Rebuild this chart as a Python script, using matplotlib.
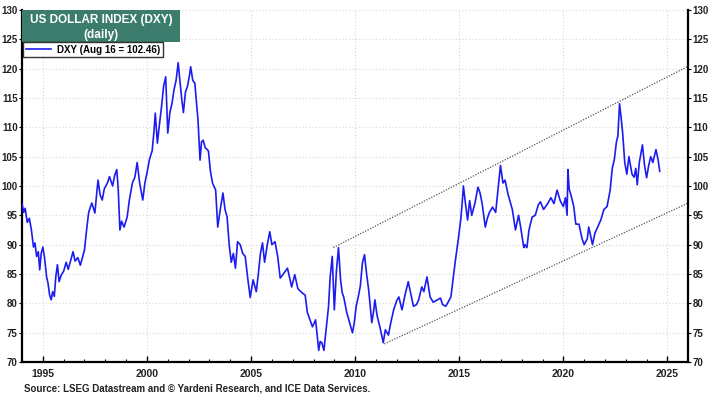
import matplotlib
matplotlib.use("Agg")
import matplotlib.pyplot as plt
from matplotlib.patches import Rectangle
import numpy as np

plt.rcParams["font.family"] = ["Liberation Sans", "DejaVu Sans"]

# DXY readings (decimal year, index level)
years = [
    1994.00, 1994.08, 1994.15, 1994.25, 1994.35, 1994.45, 1994.55, 1994.62, 1994.70, 1994.78,
    1994.85, 1994.92, 1995.00, 1995.08, 1995.18, 1995.25, 1995.32, 1995.40, 1995.47, 1995.55,
    1995.62, 1995.70, 1995.78, 1995.88, 1996.00, 1996.12, 1996.22, 1996.35, 1996.45, 1996.55,
    1996.68, 1996.80, 1996.90, 1997.00, 1997.10, 1997.20, 1997.35, 1997.50, 1997.58, 1997.65,
    1997.75, 1997.85, 1997.95, 1998.10, 1998.20, 1998.35, 1998.45, 1998.55, 1998.62, 1998.70,
    1998.78, 1998.90, 1999.05, 1999.15, 1999.30, 1999.42, 1999.53, 1999.65, 1999.80, 1999.90,
    2000.00, 2000.12, 2000.25, 2000.33, 2000.40, 2000.50, 2000.60, 2000.70, 2000.80, 2000.90,
    2000.96, 2001.00, 2001.10, 2001.20, 2001.30, 2001.40, 2001.50, 2001.58, 2001.68, 2001.75,
    2001.85, 2001.95, 2002.05, 2002.10, 2002.20, 2002.30, 2002.40, 2002.45, 2002.52, 2002.55,
    2002.62, 2002.70, 2002.80, 2002.95, 2003.05, 2003.15, 2003.30, 2003.40, 2003.50, 2003.65,
    2003.75, 2003.85, 2003.95, 2004.05, 2004.15, 2004.25, 2004.35, 2004.48, 2004.60, 2004.72,
    2004.85, 2004.96, 2005.10, 2005.25, 2005.35, 2005.45, 2005.55, 2005.65, 2005.78, 2005.90,
    2006.00, 2006.15, 2006.28, 2006.40, 2006.55, 2006.75, 2006.95, 2007.10, 2007.25, 2007.45,
    2007.60, 2007.70, 2007.85, 2007.95, 2008.10, 2008.25, 2008.32, 2008.40, 2008.50, 2008.57,
    2008.72, 2008.80, 2008.90, 2009.00, 2009.10, 2009.20, 2009.30, 2009.38, 2009.45, 2009.60,
    2009.75, 2009.87, 2009.95, 2010.05, 2010.15, 2010.25, 2010.35, 2010.45, 2010.55, 2010.65,
    2010.80, 2010.88, 2010.95, 2011.05, 2011.20, 2011.35, 2011.45, 2011.60, 2011.70, 2011.85,
    2012.00, 2012.10, 2012.25, 2012.40, 2012.55, 2012.65, 2012.80, 2012.95, 2013.05, 2013.20,
    2013.30, 2013.45, 2013.60, 2013.75, 2013.95, 2014.10, 2014.20, 2014.35, 2014.45, 2014.60,
    2014.70, 2014.80, 2014.95, 2015.08, 2015.15, 2015.20, 2015.30, 2015.40, 2015.50, 2015.60,
    2015.75, 2015.90, 2016.00, 2016.10, 2016.25, 2016.35, 2016.45, 2016.60, 2016.75, 2016.88,
    2016.98, 2017.10, 2017.20, 2017.35, 2017.55, 2017.70, 2017.85, 2017.95, 2018.10, 2018.15,
    2018.25, 2018.35, 2018.50, 2018.65, 2018.80, 2018.90, 2019.05, 2019.25, 2019.40, 2019.55,
    2019.70, 2019.85, 2020.00, 2020.10, 2020.18, 2020.22, 2020.28, 2020.40, 2020.50, 2020.60,
    2020.75, 2020.90, 2021.00, 2021.15, 2021.22, 2021.40, 2021.52, 2021.65, 2021.80, 2021.95,
    2022.10, 2022.25, 2022.35, 2022.45, 2022.55, 2022.62, 2022.70, 2022.78, 2022.85, 2022.95,
    2023.05, 2023.15, 2023.30, 2023.40, 2023.48, 2023.55, 2023.65, 2023.80, 2023.90, 2024.00,
    2024.10, 2024.20, 2024.30, 2024.45, 2024.55, 2024.63,
]
dxy = [
    97.0, 95.5, 96.2, 93.8, 94.5, 92.5, 89.6, 90.3, 88.0, 88.8,
    85.7, 88.5, 89.6, 87.8, 84.5, 83.4, 81.5, 80.6, 82.0, 81.2,
    84.5, 86.6, 83.7, 84.8, 85.5, 87.0, 85.8, 87.5, 88.8, 87.2,
    87.8, 86.5, 87.8, 89.1, 92.5, 95.5, 97.1, 95.4, 98.5, 101.0,
    98.5, 97.6, 99.5, 100.5, 101.6, 100.0, 101.8, 102.8, 99.5, 92.5,
    94.0, 93.0, 94.7, 97.5, 100.5, 101.5, 104.0, 100.5, 97.6, 100.5,
    102.2, 104.5, 106.0, 109.0, 112.4, 107.3, 110.5, 113.5, 117.0, 118.6,
    113.0, 109.0, 112.5, 114.0, 116.4, 118.0, 121.0, 118.0, 114.5, 112.5,
    116.0, 117.0, 119.0, 120.3, 118.0, 117.5, 113.5, 111.3, 106.5, 104.4,
    107.5, 107.8, 106.5, 106.0, 102.5, 100.5, 99.3, 93.0, 95.5, 98.8,
    96.0, 94.7, 90.0, 87.0, 88.5, 86.0, 90.5, 90.0, 88.5, 88.0,
    84.0, 81.0, 84.0, 82.0, 85.0, 88.5, 90.3, 87.0, 90.0, 92.2,
    90.0, 90.5, 88.0, 84.3, 85.0, 86.0, 82.8, 84.9, 82.5, 81.8,
    81.4, 78.5, 77.0, 76.0, 77.2, 72.0, 73.5, 73.3, 72.0, 74.3,
    79.4, 84.5, 88.0, 78.9, 85.5, 89.5, 84.0, 81.8, 81.1, 78.4,
    76.5, 75.0, 76.5, 79.5, 81.1, 83.0, 86.9, 88.3, 85.0, 82.3,
    76.7, 78.5, 80.6, 78.0, 75.8, 73.3, 75.5, 74.6, 76.5, 78.9,
    80.5, 81.1, 78.9, 81.5, 83.7, 82.0, 79.5, 79.8, 80.6, 82.8,
    82.0, 84.5, 81.1, 80.2, 80.6, 80.9, 79.8, 79.5, 80.1, 81.1,
    84.0, 86.9, 90.8, 94.5, 97.5, 100.0, 97.0, 94.2, 97.5, 95.0,
    97.0, 99.8, 98.8, 97.0, 93.0, 94.5, 95.5, 96.4, 95.5, 100.0,
    103.5, 100.5, 101.0, 98.5, 96.0, 92.5, 95.0, 93.0, 89.5, 90.0,
    89.5, 92.5, 94.7, 95.0, 96.8, 97.3, 96.0, 97.0, 98.0, 97.0,
    99.3, 97.5, 96.5, 98.0, 95.0, 102.8, 99.5, 98.0, 96.5, 93.5,
    93.5, 91.0, 90.0, 91.0, 93.0, 90.0, 92.0, 93.0, 94.2, 96.0,
    96.5, 99.3, 103.0, 104.5, 107.5, 108.5, 114.0, 111.5, 109.0, 104.0,
    102.0, 105.0, 102.0, 101.5, 103.0, 100.2, 104.0, 107.0, 103.5, 101.4,
    103.5, 105.0, 104.0, 106.2, 104.5, 102.5,
]

# channel lines (start, end)
upper_x = [2008.95, 2026.0]
upper_y = [89.5, 120.4]
lower_x = [2011.4, 2026.0]
lower_y = [73.1, 97.1]

x_ticks = [1995, 2000, 2005, 2010, 2015, 2020, 2025]
y_ticks = list(range(70, 131, 5))

fig = plt.figure(figsize=(7.11, 3.94), dpi=100)
ax = fig.add_axes([0.031, 0.081, 0.937, 0.894])

ax.plot(years, dxy, color="#1c1cf0", lw=1.2, label="DXY (Aug 16 = 102.46)", zorder=3)
ax.plot(upper_x, upper_y, color="#555555", lw=0.9, ls=(0, (1, 1.2)), zorder=2)
ax.plot(lower_x, lower_y, color="#555555", lw=0.9, ls=(0, (1, 1.2)), zorder=2)

ax.set_xlim(1994, 2026)
ax.set_ylim(70, 130)
ax.set_xticks(x_ticks)
ax.set_xticks(range(1994, 2027), minor=True)
ax.set_yticks(y_ticks)
ax.grid(True, which="major", color="#d6d6d6", ls=(0, (1, 2)), lw=0.8)

ax.tick_params(axis="x", which="major", direction="in", length=4, width=1, labelsize=7.5, pad=5)
ax.tick_params(axis="x", which="minor", direction="in", length=2.5, width=0.8)
ax.tick_params(axis="y", which="major", direction="out", length=2, labelsize=7,
               left=True, right=True, labelleft=True, labelright=True, pad=1)
for lab in ax.get_xticklabels() + ax.get_yticklabels():
    lab.set_fontweight("bold")
    lab.set_color("#222222")

for s in ["left", "right", "bottom"]:
    ax.spines[s].set_linewidth(1.6)
ax.spines["top"].set_visible(False)

# title box
ax.add_patch(Rectangle((0, 0.909), 0.237, 0.091, transform=ax.transAxes,
                       facecolor="#3b7c6c", edgecolor="none", zorder=5))
ax.text(0.1185, 0.972, "US DOLLAR INDEX (DXY)", transform=ax.transAxes, ha="center", va="center",
        color="white", fontsize=8.5, fontweight="bold", zorder=6)
ax.text(0.1185, 0.928, "(daily)", transform=ax.transAxes, ha="center", va="center",
        color="white", fontsize=8.5, fontweight="bold", zorder=6)

leg = ax.legend(loc="upper left", bbox_to_anchor=(0.002, 0.908), frameon=True, fancybox=False,
                edgecolor="black", fontsize=7, handlelength=2.6, borderpad=0.25,
                borderaxespad=0, handletextpad=0.6)
leg.get_frame().set_linewidth(1.0)
for t in leg.get_texts():
    t.set_fontweight("bold")
leg.set_zorder(6)

fig.text(0.034, 0.006, "Source: LSEG Datastream and \u00a9 Yardeni Research, and ICE Data Services.",
         fontsize=7, fontweight="bold", color="#222222")

fig.savefig("out.png", dpi=100)
